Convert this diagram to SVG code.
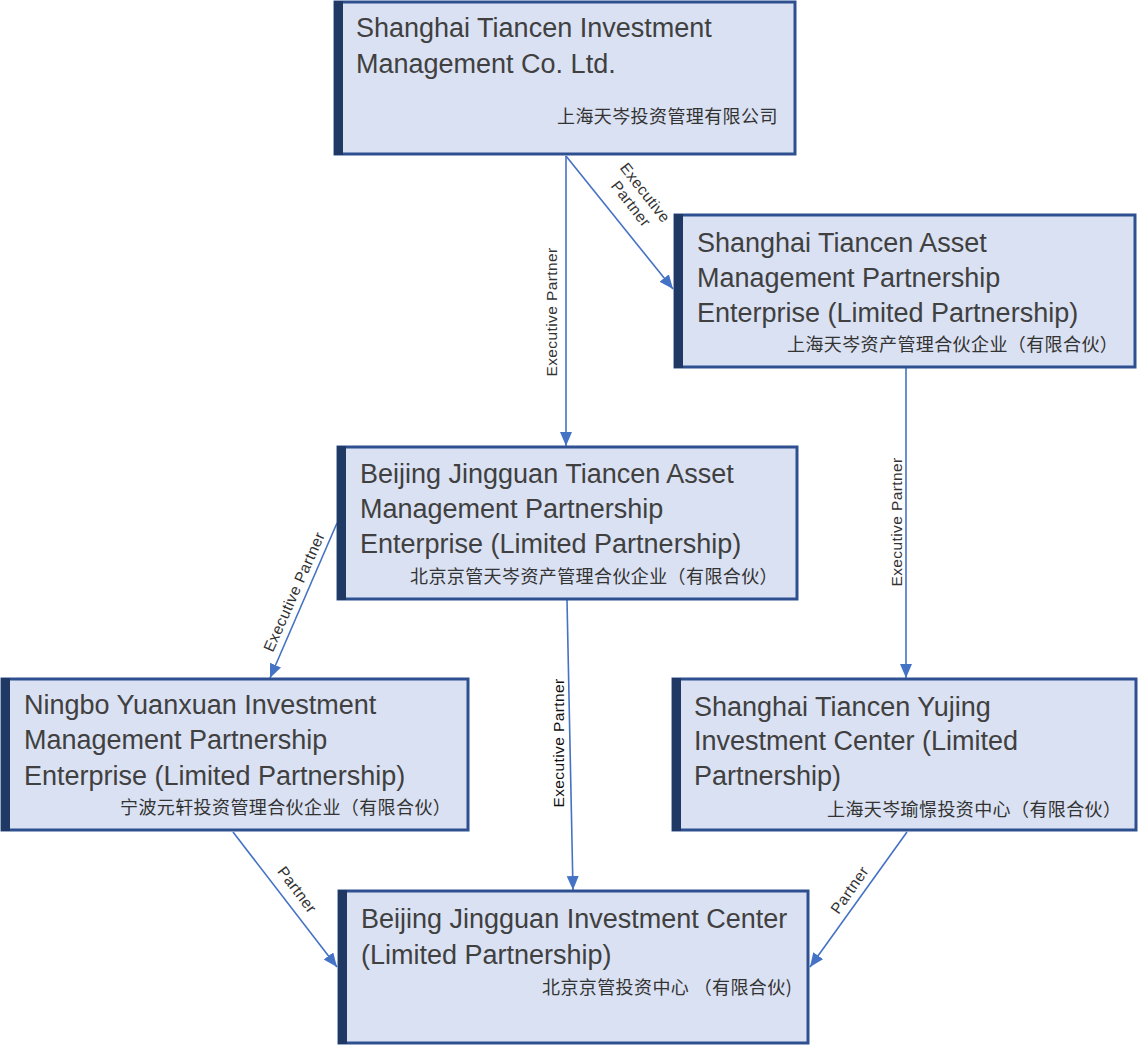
<svg xmlns="http://www.w3.org/2000/svg" width="1139" height="1045" viewBox="0 0 1139 1045">
<style>
.box{fill:#DAE1F2;stroke:#2E5090;stroke-width:3}
.bar{fill:#1F3864}
.en{font-family:"Liberation Sans",Arial,sans-serif;font-size:27px;fill:#404040}
.zh{font-family:"Noto Sans CJK SC","Noto Sans",sans-serif;font-size:18px;letter-spacing:0.4px;fill:#333333}
.lbl{font-family:"Liberation Sans",Arial,sans-serif;font-size:15.5px;fill:#333333;text-anchor:middle;letter-spacing:0.4px}
.conn{stroke:#4472C4;stroke-width:1.6;fill:none;marker-end:url(#arr)}
</style>
<defs>
<marker id="arr" markerUnits="userSpaceOnUse" markerWidth="15" markerHeight="13" refX="14" refY="6" orient="auto">
<path d="M0,0 L14,6 L0,12 z" fill="#4472C4"/>
</marker>
</defs>
<rect width="1139" height="1045" fill="#FFFFFF"/>
<g id="connectors">
<line class="conn" x1="566" y1="156" x2="566" y2="446"/>
<line class="conn" x1="566" y1="156" x2="673" y2="289"/>
<line class="conn" x1="906" y1="368" x2="906" y2="678"/>
<line class="conn" x1="337" y1="523" x2="270" y2="678"/>
<line class="conn" x1="567" y1="600" x2="573" y2="890"/>
<line class="conn" x1="233" y1="832" x2="337" y2="967"/>
<line class="conn" x1="907" y1="832" x2="810" y2="967"/>
<text class="lbl" transform="translate(557,312) rotate(-90)">Executive Partner</text>
<text class="lbl" transform="translate(641,196) rotate(52)"><tspan x="0" y="0">Executive</tspan><tspan x="0" y="18">Partner</tspan></text>
<text class="lbl" transform="translate(902,522) rotate(-90)">Executive Partner</text>
<text class="lbl" transform="translate(299,594) rotate(-66)">Executive Partner</text>
<text class="lbl" transform="translate(564,743) rotate(-90)" style="fill:#111">Executive Partner</text>
<text class="lbl" transform="translate(293,893) rotate(53)">Partner</text>
<text class="lbl" transform="translate(854,893) rotate(-55)">Partner</text>
</g>
<g id="n1">
<rect class="box" x="335" y="2" width="460" height="152"/>
<rect class="bar" x="334" y="1" width="9" height="154"/>
<text class="en" x="356" y="37">Shanghai Tiancen Investment</text>
<text class="en" x="356" y="73">Management Co. Ltd.</text>
<text class="zh" x="557" y="123">上海天岑投资管理有限公司</text>
</g>
<g id="n2">
<rect class="box" x="675" y="215" width="460" height="152"/>
<rect class="bar" x="674" y="214" width="9" height="154"/>
<text class="en" x="697" y="252">Shanghai Tiancen Asset</text>
<text class="en" x="697" y="287">Management Partnership</text>
<text class="en" x="697" y="322">Enterprise (Limited Partnership)</text>
<text class="zh" x="787" y="351">上海天岑资产管理合伙企业（有限合伙）</text>
</g>
<g id="n3">
<rect class="box" x="338" y="447" width="459" height="152"/>
<rect class="bar" x="337" y="446" width="9" height="154"/>
<text class="en" x="360" y="483">Beijing Jingguan Tiancen Asset</text>
<text class="en" x="360" y="518">Management Partnership</text>
<text class="en" x="360" y="553">Enterprise (Limited Partnership)</text>
<text class="zh" x="410" y="583">北京京管天岑资产管理合伙企业（有限合伙）</text>
</g>
<g id="n4">
<rect class="box" x="2" y="679" width="466" height="151"/>
<rect class="bar" x="1" y="678" width="9" height="153"/>
<text class="en" x="24" y="714">Ningbo Yuanxuan Investment</text>
<text class="en" x="24" y="749">Management Partnership</text>
<text class="en" x="24" y="785">Enterprise (Limited Partnership)</text>
<text class="zh" x="120" y="814">宁波元轩投资管理合伙企业（有限合伙）</text>
</g>
<g id="n5">
<rect class="box" x="673" y="679" width="463" height="151"/>
<rect class="bar" x="672" y="678" width="9" height="153"/>
<text class="en" x="694" y="716">Shanghai Tiancen Yujing</text>
<text class="en" x="694" y="750">Investment Center (Limited</text>
<text class="en" x="694" y="785">Partnership)</text>
<text class="zh" x="827" y="816">上海天岑瑜憬投资中心（有限合伙）</text>
</g>
<g id="n6">
<rect class="box" x="339" y="891" width="469" height="152"/>
<rect class="bar" x="338" y="890" width="9" height="154"/>
<text class="en" x="361" y="928">Beijing Jingguan Investment Center</text>
<text class="en" x="361" y="964">(Limited Partnership)</text>
<text class="zh" x="542" y="994">北京京管投资中心 （有限合伙)</text>
</g>
</svg>
